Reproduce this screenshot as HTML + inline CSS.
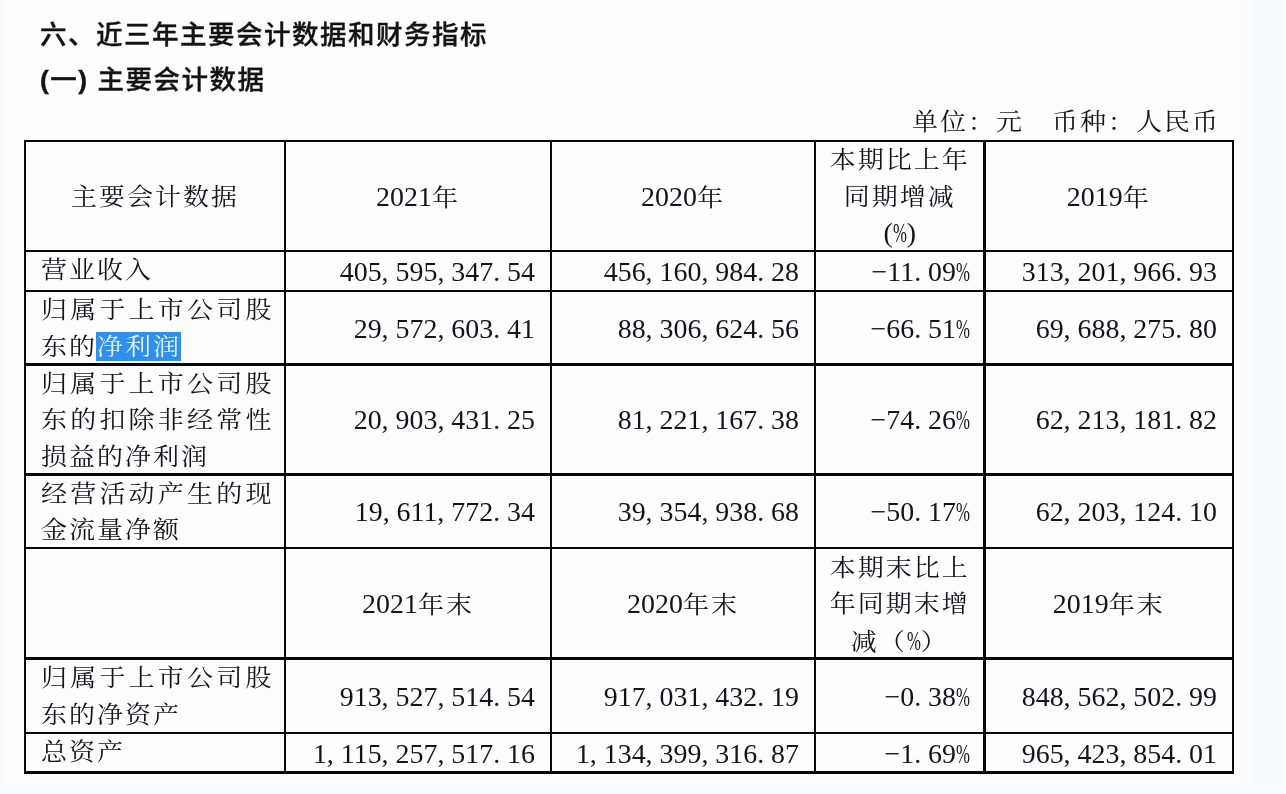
<!DOCTYPE html><html lang="zh-CN"><head><meta charset="utf-8"><title>主要会计数据</title><style>
html,body{margin:0;padding:0;}
body{width:1286px;height:794px;position:relative;overflow:hidden;background:#fdfdfe;
 font-family:"Liberation Serif","Noto Serif CJK SC",serif;color:#15121b;}
.ln{position:absolute;background:#08080c;}
.t{position:absolute;white-space:nowrap;font-size:26px;line-height:36.5px;font-weight:400;letter-spacing:2.0px;}
.h{position:absolute;white-space:nowrap;font-family:"Liberation Sans","Noto Sans CJK SC",sans-serif;font-weight:500;font-size:26.5px;letter-spacing:1.5px;line-height:36px;color:#141216;-webkit-text-stroke:0.35px #141216;}
.z{display:inline-block;transform:scaleY(.9);transform-origin:50% 80%;}
.t,.h{filter:blur(.35px);}
.c{text-align:center;}
.r{text-align:right;}
.n{font-size:27.9px;letter-spacing:0;word-spacing:0;}
.p{display:inline-block;width:14px;}
.p i{display:inline-block;font-style:normal;transform:scaleX(.6);transform-origin:0 50%;}
.sel{background:#2f8ff0;color:#e8f4ff;padding-left:1px;margin-left:-1px;}
.edge{position:absolute;}
</style></head><body>
<div class="edge" style="left:0;top:0;width:6px;height:794px;background:linear-gradient(to right,#f7f8fa,#fdfdfe)"></div>
<div class="edge" style="left:1244px;top:0;width:42px;height:794px;background:linear-gradient(to right,#fdfdfe,#f9fafc 25%,#f9fafc 92%,#ffffff)"></div>
<div class="edge" style="left:0;top:786px;width:1286px;height:8px;background:linear-gradient(to bottom,#fdfdfe,#f9fafb)"></div>
<div class="ln" style="left:23.75px;top:139.85px;width:2.5px;height:633.80px"></div>
<div class="ln" style="left:283.75px;top:139.85px;width:2.5px;height:633.80px"></div>
<div class="ln" style="left:549.75px;top:139.85px;width:2.5px;height:633.80px"></div>
<div class="ln" style="left:813.75px;top:139.85px;width:2.5px;height:633.80px"></div>
<div class="ln" style="left:983.25px;top:139.85px;width:2.5px;height:633.80px"></div>
<div class="ln" style="left:1231.75px;top:139.85px;width:2.5px;height:633.80px"></div>
<div class="ln" style="left:23.85px;top:139.85px;width:1210.30px;height:2.3px"></div>
<div class="ln" style="left:23.85px;top:249.85px;width:1210.30px;height:2.3px"></div>
<div class="ln" style="left:23.85px;top:289.85px;width:1210.30px;height:2.3px"></div>
<div class="ln" style="left:23.85px;top:363.35px;width:1210.30px;height:2.3px"></div>
<div class="ln" style="left:23.85px;top:473.35px;width:1210.30px;height:2.3px"></div>
<div class="ln" style="left:23.85px;top:546.85px;width:1210.30px;height:2.3px"></div>
<div class="ln" style="left:23.85px;top:657.35px;width:1210.30px;height:2.3px"></div>
<div class="ln" style="left:23.85px;top:731.85px;width:1210.30px;height:2.3px"></div>
<div class="ln" style="left:23.85px;top:771.35px;width:1210.30px;height:2.3px"></div>
<div class="h" style="left:40px;top:17px;">六、近三年主要会计数据和财务指标</div>
<div class="h" style="left:40px;top:62px;"><b>(</b>一<b>)</b> 主要会计数据</div>
<div class="t r" style="right:66px;top:104px;"><span class="z">单位：元&#12288;币种：人民币</span></div>
<div class="t c " style="left:25px;width:260px;top:178.75px;"><span class="z">主要会计数据</span></div>
<div class="t c " style="left:285px;width:266px;top:178.75px;"><span class="n">2021</span><span class="z">年</span></div>
<div class="t c " style="left:551px;width:264px;top:178.75px;"><span class="n">2020</span><span class="z">年</span></div>
<div class="t c " style="left:815px;width:169.5px;top:142.25px;"><span class="z">本期比上年</span><br><span class="z">同期增减</span><br><span class="n">(<span class="p"><i>%</i></span>)</span></div>
<div class="t c " style="left:984.5px;width:248.5px;top:178.75px;"><span class="n">2019</span><span class="z">年</span></div>
<div class="t" style="left:41px;top:251.75px;"><div><span class="z">营业收入</span></div></div>
<div class="t r n" style="right:751px;top:253.75px;">405, 595, 347. 54</div>
<div class="t r n" style="right:487px;top:253.75px;">456, 160, 984. 28</div>
<div class="t r n" style="right:316px;top:253.75px;">−11. 09<span class="p"><i>%</i></span></div>
<div class="t r n" style="right:69px;top:253.75px;">313, 201, 966. 93</div>
<div class="t" style="left:41px;top:292.25px;"><div style="letter-spacing:3.2px"><span class="z">归属于上市公司股</span></div><div><span class="z">东的</span><span class="sel"><span class="z">净利润</span></span></div></div>
<div class="t r n" style="right:751px;top:310.50px;">29, 572, 603. 41</div>
<div class="t r n" style="right:487px;top:310.50px;">88, 306, 624. 56</div>
<div class="t r n" style="right:316px;top:310.50px;">−66. 51<span class="p"><i>%</i></span></div>
<div class="t r n" style="right:69px;top:310.50px;">69, 688, 275. 80</div>
<div class="t" style="left:41px;top:365.75px;"><div style="letter-spacing:3.2px"><span class="z">归属于上市公司股</span></div><div style="letter-spacing:3.2px"><span class="z">东的扣除非经常性</span></div><div><span class="z">损益的净利润</span></div></div>
<div class="t r n" style="right:751px;top:402.25px;">20, 903, 431. 25</div>
<div class="t r n" style="right:487px;top:402.25px;">81, 221, 167. 38</div>
<div class="t r n" style="right:316px;top:402.25px;">−74. 26<span class="p"><i>%</i></span></div>
<div class="t r n" style="right:69px;top:402.25px;">62, 213, 181. 82</div>
<div class="t" style="left:41px;top:475.75px;"><div style="letter-spacing:3.2px"><span class="z">经营活动产生的现</span></div><div><span class="z">金流量净额</span></div></div>
<div class="t r n" style="right:751px;top:494.00px;">19, 611, 772. 34</div>
<div class="t r n" style="right:487px;top:494.00px;">39, 354, 938. 68</div>
<div class="t r n" style="right:316px;top:494.00px;">−50. 17<span class="p"><i>%</i></span></div>
<div class="t r n" style="right:69px;top:494.00px;">62, 203, 124. 10</div>
<div class="t" style="left:41px;top:660.25px;"><div style="letter-spacing:3.2px"><span class="z">归属于上市公司股</span></div><div><span class="z">东的净资产</span></div></div>
<div class="t r n" style="right:751px;top:678.50px;">913, 527, 514. 54</div>
<div class="t r n" style="right:487px;top:678.50px;">917, 031, 432. 19</div>
<div class="t r n" style="right:316px;top:678.50px;">−0. 38<span class="p"><i>%</i></span></div>
<div class="t r n" style="right:69px;top:678.50px;">848, 562, 502. 99</div>
<div class="t" style="left:41px;top:734.00px;"><div><span class="z">总资产</span></div></div>
<div class="t r n" style="right:751px;top:735.50px;">1, 115, 257, 517. 16</div>
<div class="t r n" style="right:487px;top:735.50px;">1, 134, 399, 316. 87</div>
<div class="t r n" style="right:316px;top:735.50px;">−1. 69<span class="p"><i>%</i></span></div>
<div class="t r n" style="right:69px;top:735.50px;">965, 423, 854. 01</div>
<div class="t c " style="left:285px;width:266px;top:586.00px;"><span class="n">2021</span><span class="z">年末</span></div>
<div class="t c " style="left:551px;width:264px;top:586.00px;"><span class="n">2020</span><span class="z">年末</span></div>
<div class="t c " style="left:815px;width:169.5px;top:549.50px;"><span class="z">本期末比上</span><br><span class="z">年同期末增</span><br><span class="z">减（</span><span class="n"><span class="p"><i>%</i></span></span><span class="z">）</span></div>
<div class="t c " style="left:984.5px;width:248.5px;top:586.00px;"><span class="n">2019</span><span class="z">年末</span></div>
</body></html>
